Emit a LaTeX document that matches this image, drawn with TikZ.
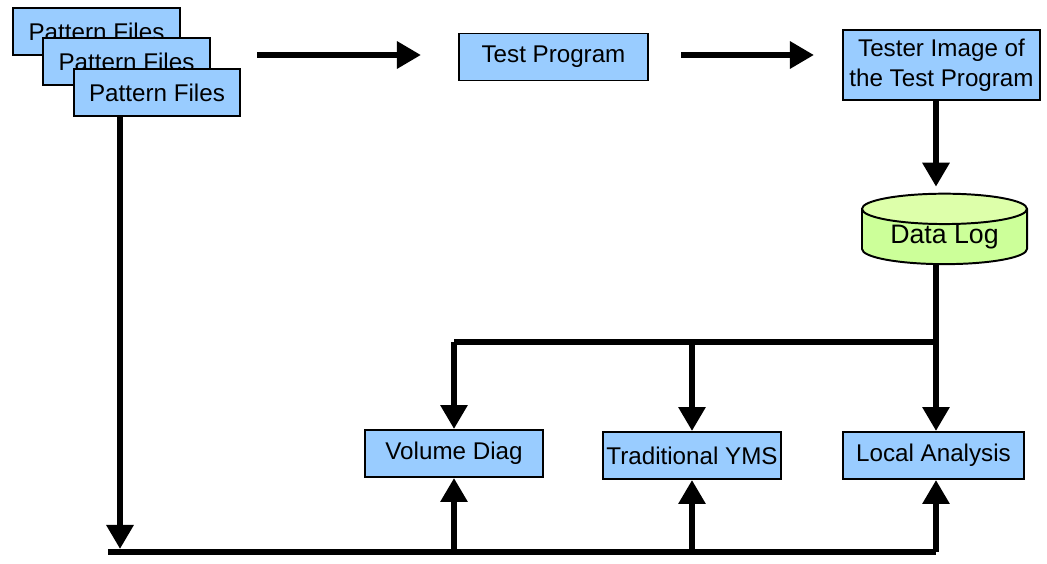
\documentclass[tikz,border=0pt]{standalone}
\usepackage{fontspec}
\setmainfont{Liberation Sans}
\usetikzlibrary{arrows.meta, shapes.geometric}

\definecolor{boxblue}{HTML}{99CCFF}
\definecolor{loggreen}{HTML}{CCFF99}
\definecolor{logtop}{HTML}{DDFFAA}

\begin{document}
\begin{tikzpicture}[
        x=0.025cm, y=-0.025cm, % pixel grid of the drawing
        every node/.style = {font=\fontsize{17.2}{21}\selectfont},
        box/.style = {draw, fill=boxblue, line width=1.4pt, inner sep=0pt, align=center},
        store/.style = {cylinder, shape border rotate=90, draw, line width=1.4pt,
                cylinder uses custom fill, cylinder body fill=loggreen, cylinder end fill=logtop,
                aspect=0.28, inner sep=0pt, font=\fontsize{19}{23}\selectfont},
        flow/.style = {line width=4.3pt, -{Triangle[length=0.6cm, width=0.65cm]}},
        wire/.style = {line width=4.3pt},
    ]
    \useasboundingbox (0,0) rectangle (1047,564);

    % pattern files stack
    \node[box, minimum width=4.175cm, minimum height=1.175cm] (pf1) at (96.5,31.5) {Pattern Files};
    \node[box, minimum width=4.175cm, minimum height=1.175cm] (pf2) at (126.5,61.5) {Pattern Files};
    \node[box, minimum width=4.15cm, minimum height=1.175cm] (pf3) at (157,92.5) {Pattern Files};

    \node[box, minimum width=4.725cm, minimum height=1.175cm] (prog) at (553.5,57) {Test Program};
    \node[box, minimum width=4.925cm, minimum height=1.75cm] (image) at (941.5,65) {Tester Image of\\the Test Program};
    \node[store, minimum width=4.125cm, minimum height=1.75cm] (log) at (944.5,237) {Data Log};

    % analysis boxes
    \node[box, minimum width=4.45cm, minimum height=1.175cm] (vol) at (454,453.5) {Volume Diag};
    \node[box, minimum width=4.45cm, minimum height=1.175cm] (yms) at (692,455.5) {Traditional YMS};
    \node[box, minimum width=4.525cm, minimum height=1.175cm] (loc) at (933.5,455.5) {Local Analysis};

    \coordinate (split) at (936,342);
    \coordinate (bus) at (120,549);

    % top row
    \draw[flow, shorten <=0.4cm, shorten >=0.925cm] (pf3.east |- 0,55) -- (prog.west |- 0,55);
    \draw[flow, shorten <=0.8cm, shorten >=0.7cm] (prog.east |- 0,55) -- (image.west |- 0,55);
    \draw[flow, shorten >=0.15cm] (image.south -| split) -- (log.north -| split);

    % data log to the analysis boxes
    \draw[flow] (log.south -| split) -- (split |- loc.north);
    \draw[wire] (split) -- (split -| vol.north);
    \draw[flow] (split -| vol.north) -- (vol.north);
    \draw[flow] (split -| yms.north) -- (yms.north);

    % pattern files to the analysis boxes
    \draw[flow] (pf3.south -| bus) -- (bus);
    \draw[wire] ([xshift=-0.3cm, yshift=-0.075cm]bus) -- ([yshift=-0.075cm]bus -| split);
    \draw[flow] ([yshift=-0.075cm]bus -| vol.south) -- (vol.south);
    \draw[flow] ([yshift=-0.075cm]bus -| yms.south) -- (yms.south);
    \draw[flow] ([yshift=-0.075cm]bus -| split) -- (split |- loc.south);
\end{tikzpicture}
\end{document}
